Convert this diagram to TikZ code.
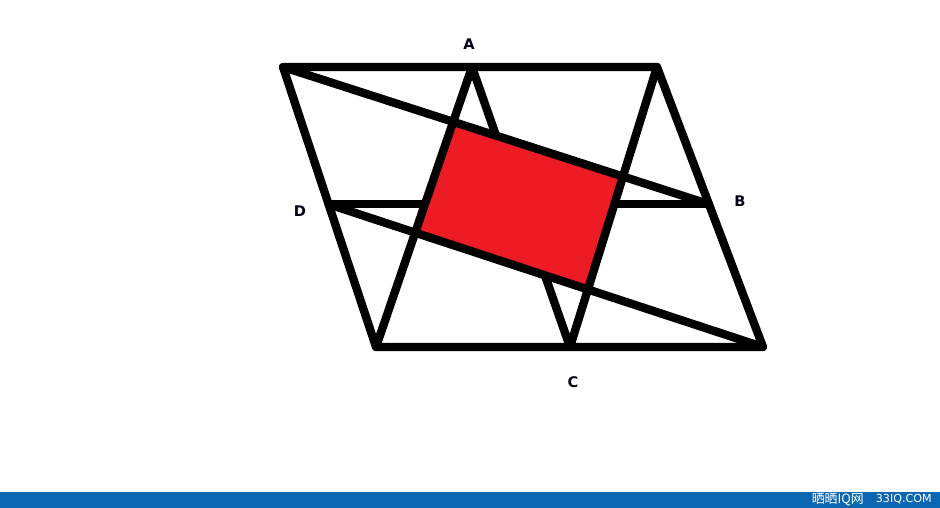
\documentclass[tikz,border=0pt]{standalone}
\usepackage{fontspec}
\setsansfont{DejaVu Sans}
\newfontfamily\cjk{Noto Sans CJK SC}
\usepackage{tikz}
\usetikzlibrary{positioning, calc}

\definecolor{fillred}{HTML}{ED1C24}
\definecolor{barblue}{HTML}{0B67B2}

\begin{document}
\begin{tikzpicture}[
x=0.03cm, y=-0.03cm,
    edge/.style={draw, black, line width=0.25cm, line cap=round, line join=round},
    region/.style={fill=fillred},
    vlabel/.style={font=\sffamily\bfseries\fontsize{12.5}{13}\selectfont, text=black!90!blue},
    bartext/.style={font=\sffamily\fontsize{9.5}{10}\selectfont, text=white, inner sep=0pt}
]
    \useasboundingbox (0,0) rectangle (940,508);

    % --- Outer Parallelogram ---
    \coordinate (tl) at (283,67);
    \coordinate (tr) at (657,67);
    \coordinate (br) at (763,347);
    \coordinate (bl) at (376,347);

    % --- Side Midpoints ---
    \coordinate (a) at (472,67);
    \coordinate (b) at ($(tr)!0.49!(br)$);
    \coordinate (c) at (570,347);
    \coordinate (d) at ($(tl)!0.49!(bl)$);

    % --- Hidden Midlines ---
    \draw[edge] (a) -- (c);
    \draw[edge] (d) -- (b);

    % --- Inner Region ---
    \coordinate (p1) at (intersection of tl--b and a--bl);
    \coordinate (p2) at (intersection of tl--b and tr--c);
    \coordinate (p3) at (intersection of d--br and tr--c);
    \coordinate (p4) at (intersection of d--br and a--bl);
    \fill[region] (p1) -- (p2) -- (p3) -- (p4) -- cycle;

    % --- Cutting Lines ---
    \draw[edge] (tl) -- (b);
    \draw[edge] (d) -- (br);
    \draw[edge] (a) -- (bl);
    \draw[edge] (tr) -- (c);
    \draw[edge] (tl) -- (tr) -- (br) -- (bl) -- cycle;

    % --- Labels ---
    \node[vlabel] (la) at (469,44) {A};
    \node[vlabel] (lb) at (740,201) {B};
    \node[vlabel] (lc) at (573,382) {C};
    \node[vlabel] (ld) at (300,211) {D};

    % --- Footer Bar ---
    \fill[barblue] (0,492) rectangle (940,508);
    \node[bartext, anchor=east] (site) at (932,499.5) {33IQ.COM};
    \node[bartext, anchor=east, font=\fontsize{11}{12}\selectfont] (brand) at (864,499.5) {\cjk 晒晒IQ网};

\end{tikzpicture}
\end{document}
